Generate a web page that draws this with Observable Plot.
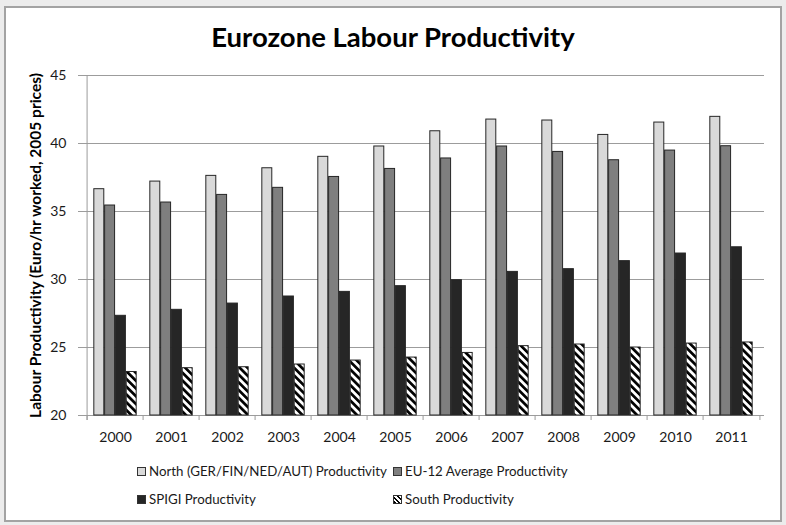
<!DOCTYPE html>
<html>
<head>
<meta charset="utf-8">
<script src="https://cdn.jsdelivr.net/npm/d3@7"></script>
<script src="https://cdn.jsdelivr.net/npm/@observablehq/plot@0.6"></script>
<style>
  html, body { margin: 0; padding: 0; }
  body { width: 786px; height: 525px; background: #ececec; position: relative; overflow: hidden; font-family: Lato, "Open Sans", sans-serif; color: #1a1a1a; }
  #frame { position: absolute; left: 4px; top: 6px; width: 778px; height: 516px; background: #fff; border: 2px solid #a3a3a3; box-sizing: border-box; }
  #title { position: absolute; left: 0; width: 786px; top: 20px; text-align: center; font-weight: bold; font-size: 27.5px; color: #000; }
  #chart { position: absolute; left: 0; top: 60px; }
  #legend { position: absolute; left: 137px; top: 462px; display: grid; grid-template-columns: 256px auto; row-gap: 10px; font-size: 13.3px; color: #1a1a1a; }
  .item { display: flex; align-items: center; height: 18px; white-space: nowrap; }
  .sw { width: 9px; height: 9px; border: 1px solid #333; margin-right: 3px; box-sizing: border-box; flex: none; }
  g[aria-label="y-axis label"] text { font-weight: bold; font-size: 15.5px; fill: #000; }
</style>
</head>
<body>
<div id="frame"></div>
<div id="title">Eurozone Labour Productivity</div>
<div id="chart"></div>
<div id="legend"></div>
<script>
// ---- data ----
const years = ["2000","2001","2002","2003","2004","2005","2006","2007","2008","2009","2010","2011"];
const north = [36.64, 37.20, 37.62, 38.18, 39.02, 39.78, 40.90, 41.76, 41.69, 40.63, 41.54, 41.96];
const eu12  = [35.44, 35.66, 36.22, 36.74, 37.54, 38.13, 38.90, 39.78, 39.38, 38.77, 39.48, 39.80];
const spigi = [27.33, 27.77, 28.23, 28.75, 29.09, 29.51, 29.95, 30.56, 30.76, 31.35, 31.91, 32.37];
const south = [23.20, 23.48, 23.55, 23.75, 24.04, 24.26, 24.60, 25.10, 25.22, 25.00, 25.29, 25.37];
const seriesNames = ["North (GER/FIN/NED/AUT) Productivity", "EU-12 Average Productivity", "SPIGI Productivity", "South Productivity"];
const yTicks = [20, 25, 30, 35, 40, 45];
const yLabel = "Labour Productivity (Euro/hr worked, 2005 prices)";

// ---- layout / styles ----
const W = 786, H = 390;
const M = {top: 15, right: 22, bottom: 35, left: 82};
const plotW = W - M.left - M.right, plotH = H - M.top - M.bottom;
const bw = plotW / years.length;
const gap = 0.24, barFrac = (1 - gap) / seriesNames.length;
const gridColor = "#9c9c9c";
const seriesKeys = ["north", "eu12", "spigi", "south"];
const seriesFills = ["#d9d9d9", "#7f7f7f", "#262626", "url(#southHatch)"];
const legendBg = ["#d9d9d9", "#7f7f7f", "#262626", "repeating-linear-gradient(45deg, #000 0 1.6px, #fff 1.6px 3.2px)"];

const rows = years.map((year, i) => ({year, north: north[i], eu12: eu12[i], spigi: spigi[i], south: south[i]}));

const barMarks = seriesKeys.map((key, k) => Plot.barY(rows, {
  x: "year", y1: yTicks[0], y2: key,
  fill: seriesFills[k], stroke: "#262626", strokeWidth: 1,
  insetLeft: bw * (gap / 2 + k * barFrac),
  insetRight: bw * (1 - gap / 2 - (k + 1) * barFrac)
}));

const chart = Plot.plot({
  width: W, height: H,
  marginTop: M.top, marginRight: M.right, marginBottom: M.bottom, marginLeft: M.left,
  style: {fontFamily: "Lato, sans-serif", fontSize: "14px", color: "#1a1a1a", background: "transparent", overflow: "visible"},
  x: {domain: years, padding: 0, label: null},
  y: {domain: [yTicks[0], yTicks[yTicks.length - 1]], label: null},
  marks: [
    Plot.gridY(yTicks, {stroke: gridColor, strokeOpacity: 1}),
    Plot.ruleX(years, {dx: -bw / 2, stroke: gridColor, insetTop: plotH, insetBottom: -5}),
    Plot.ruleX(years.slice(-1), {dx: bw / 2, stroke: gridColor, insetTop: plotH, insetBottom: -5}),
    Plot.ruleX(years.slice(0, 1), {dx: -bw / 2, stroke: gridColor, insetBottom: -5}),
    ...barMarks,
    Plot.axisY(yTicks, {tickSize: 4, tickPadding: 12, stroke: gridColor, label: yLabel, labelAnchor: "center", labelOffset: 53, labelArrow: "none"}),
    Plot.axisX({tickSize: 0, tickPadding: 17, label: null})
  ]
});

const defs = d3.select(chart).insert("defs", ":first-child");
const pat = defs.append("pattern").attr("id", "southHatch").attr("patternUnits", "userSpaceOnUse")
  .attr("width", 5.5).attr("height", 5.5).attr("patternTransform", "rotate(-45)");
pat.append("rect").attr("width", 5.5).attr("height", 5.5).attr("fill", "#fff");
pat.append("rect").attr("width", 2.7).attr("height", 5.5).attr("fill", "#000");

document.getElementById("chart").append(chart);

const legend = d3.select("#legend");
seriesNames.forEach((name, k) => {
  const it = legend.append("div").attr("class", "item");
  it.append("div").attr("class", "sw").style("background", legendBg[k]);
  it.append("span").text(name);
});
</script>
</body>
</html>
